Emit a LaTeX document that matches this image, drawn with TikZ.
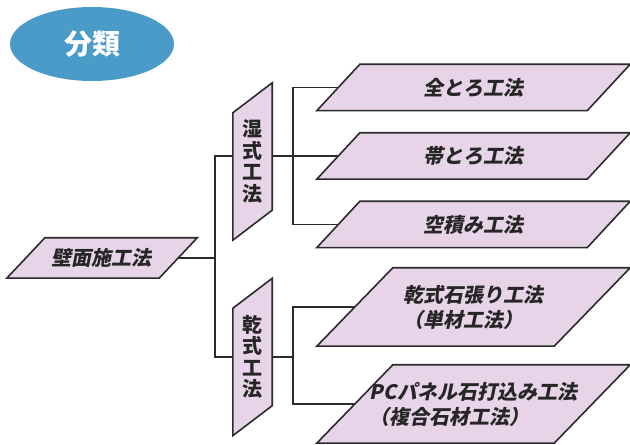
\documentclass[tikz,border=0pt]{standalone}
\usepackage{fontspec}
\setmainfont{Noto Sans CJK JP}
\newfontfamily\jpslant{Noto Sans CJK JP}[FakeSlant=0.2, BoldFeatures={FakeSlant=0.2}]
\usetikzlibrary{calc,shapes.geometric}

\definecolor{bunruiblue}{HTML}{4A9BC8}
\definecolor{boxpink}{HTML}{E8D4E8}
\definecolor{linegray}{HTML}{2B2B2B}

\pgfdeclarelayer{lines}
\pgfdeclarelayer{boxes}
\pgfsetlayers{lines,boxes,main}

% 横の平行四辺形 #1 = node, #2 = ずれ
\newcommand{\hpara}[2]{%
  \draw[para] (#1.south west) -- ($(#1.north west)+(#2pt,0)$) -- (#1.north east)
    -- ($(#1.south east)-(#2pt,0)$) -- cycle;}
% 縦の平行四辺形
\newcommand{\vpara}[2]{%
  \draw[para] (#1.south west) -- ($(#1.north west)-(0,#2pt)$) -- (#1.north east)
    -- ($(#1.south east)+(0,#2pt)$) -- cycle;}

\begin{document}
\begin{tikzpicture}[x=1pt, y=1pt,
  koho/.style={inner sep=0pt, align=left, text=black!85,
    font=\jpslant\bfseries\fontsize{20}{25}\selectfont},
  tate/.style={inner sep=0pt, minimum width=39pt, minimum height=157pt,
    align=center, text=black!85, font=\bfseries\fontsize{20}{21.5}\selectfont},
  para/.style={draw=linegray, line width=1.6pt, fill=boxpink},
  conn/.style={draw=linegray, line width=1.3pt}]
  \useasboundingbox (0,0) rectangle (630,445);

  \node[ellipse, fill=bunruiblue, minimum width=164pt, minimum height=74pt,
    text=white, font=\bfseries\fontsize{28}{28}\selectfont] (bunrui) at (92,401) {分類};

  \node[koho, minimum width=190pt, minimum height=40pt] (hekimen) at (102,187) {壁面施工法};

  \node[tate] (shishiki) at (252.5,283.5) {湿\\式\\工\\法};
  \node[tate] (kanshiki) at (252.5,88) {乾\\式\\工\\法};

  \node[koho, minimum width=313pt, minimum height=46pt] (zentoro)  at (473.5,357.5) {全とろ工法};
  \node[koho, minimum width=313pt, minimum height=46pt] (obitoro)  at (473.5,289)   {帯とろ工法};
  \node[koho, minimum width=313pt, minimum height=46pt] (karazumi) at (473.5,220.5) {空積み工法};
  \node[koho, minimum width=313pt, minimum height=78pt] (ishibari) at (473.5,138)   {乾式石張り工法\\（単材工法）};
  \node[koho, minimum width=313pt, minimum height=78pt] (pcpanel)  at (473.5,41)    {PCパネル石打込み工法\\（複合石材工法）};

  \coordinate (trunk)    at (215,187);
  \coordinate (wetjoint) at (293,289);
  \coordinate (dryjoint) at (293,88);

  \begin{pgfonlayer}{lines}
    \draw[conn] (hekimen.center) -- (trunk);
    \draw[conn] (obitoro.center) -| (trunk) |- (dryjoint);
    \draw[conn] (zentoro.center) -| (wetjoint) |- (karazumi.center);
    \draw[conn] (ishibari.center) -| (dryjoint) |- (pcpanel.center);
  \end{pgfonlayer}

  \begin{pgfonlayer}{boxes}
    \hpara{hekimen}{38}
    \vpara{shishiki}{30}
    \vpara{kanshiki}{30}
    \hpara{zentoro}{43}
    \hpara{obitoro}{43}
    \hpara{karazumi}{43}
    \hpara{ishibari}{76}
    \hpara{pcpanel}{76}
  \end{pgfonlayer}
\end{tikzpicture}
\end{document}
